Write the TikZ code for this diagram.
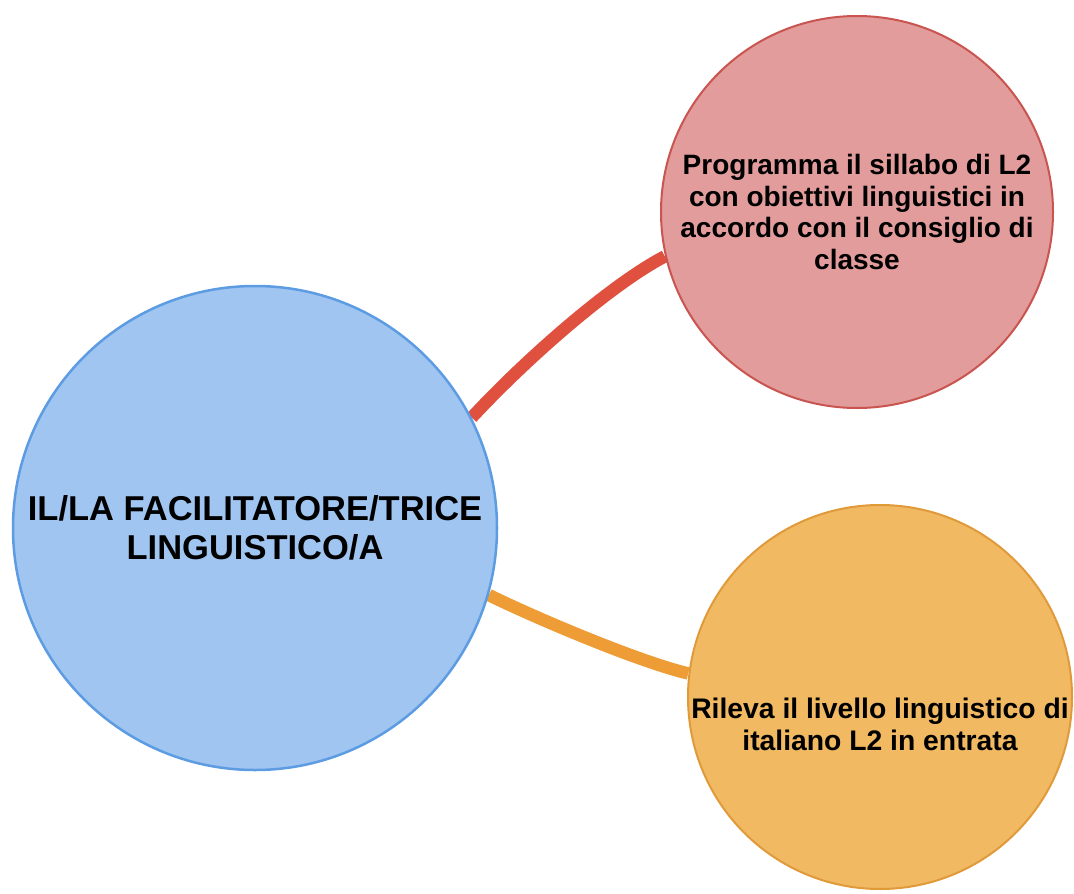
\documentclass[tikz,border=0pt]{standalone}
\usepackage{fontspec}
\setmainfont{Liberation Sans}
\definecolor{bluefill}{HTML}{9FC5F0}
\definecolor{blueedge}{HTML}{5D9CE3}
\definecolor{redfill}{HTML}{E39C9C}
\definecolor{rededge}{HTML}{C95450}
\definecolor{orangefill}{HTML}{F2B963}
\definecolor{orangeedge}{HTML}{E09A3A}
\definecolor{redline}{HTML}{E0503F}
\definecolor{orangeline}{HTML}{EE9C36}
\begin{document}
\begin{tikzpicture}[x=1pt,y=-1pt,
  bubble/.style={circle,inner sep=0pt,line width=2.5pt},
  conn/.style={line width=12.5pt},
  txt/.style={align=center,font=\bfseries,text=black,inner sep=0pt}]
\useasboundingbox[fill=white] (0,0) rectangle (1074,894);
% circles (positions)
\coordinate (bc) at (255,528);
\coordinate (rc) at (857,212);
\coordinate (oc) at (880,697);
\node[bubble,minimum size=484pt] (b) at (bc) {};
\node[bubble,minimum size=392pt] (r) at (rc) {};
\node[bubble,minimum size=384pt] (o) at (oc) {};
% connectors
\draw[conn,redline] (b.27) .. controls (525,360) and (610,285) .. (r.193);
\draw[conn,orangeline] (b.-16) .. controls (540,620) and (640,662) .. (o.173);
% filled circles on top
\node[bubble,minimum size=484pt,fill=bluefill,draw=blueedge] (bfill) at (bc) {};
\node[bubble,minimum size=392pt,fill=redfill,draw=rededge,line width=2pt] (rfill) at (rc) {};
\node[bubble,minimum size=384pt,fill=orangefill,draw=orangeedge,line width=2pt] (ofill) at (oc) {};
% texts
\node[txt,font=\fontsize{34.5}{39}\selectfont\bfseries] (btext) at (255,528)
  {IL/LA FACILITATORE/TRICE\\LINGUISTICO/A};
\node[txt,font=\fontsize{28}{31.5}\selectfont\bfseries] (rtext) at (857,212)
  {Programma il sillabo di L2\\con obiettivi linguistici in\\accordo con il consiglio di\\classe};
\node[txt,font=\fontsize{28.3}{32}\selectfont\bfseries] (otext) at (880,724)
  {Rileva il livello linguistico di\\italiano L2 in entrata};
\end{tikzpicture}
\end{document}
